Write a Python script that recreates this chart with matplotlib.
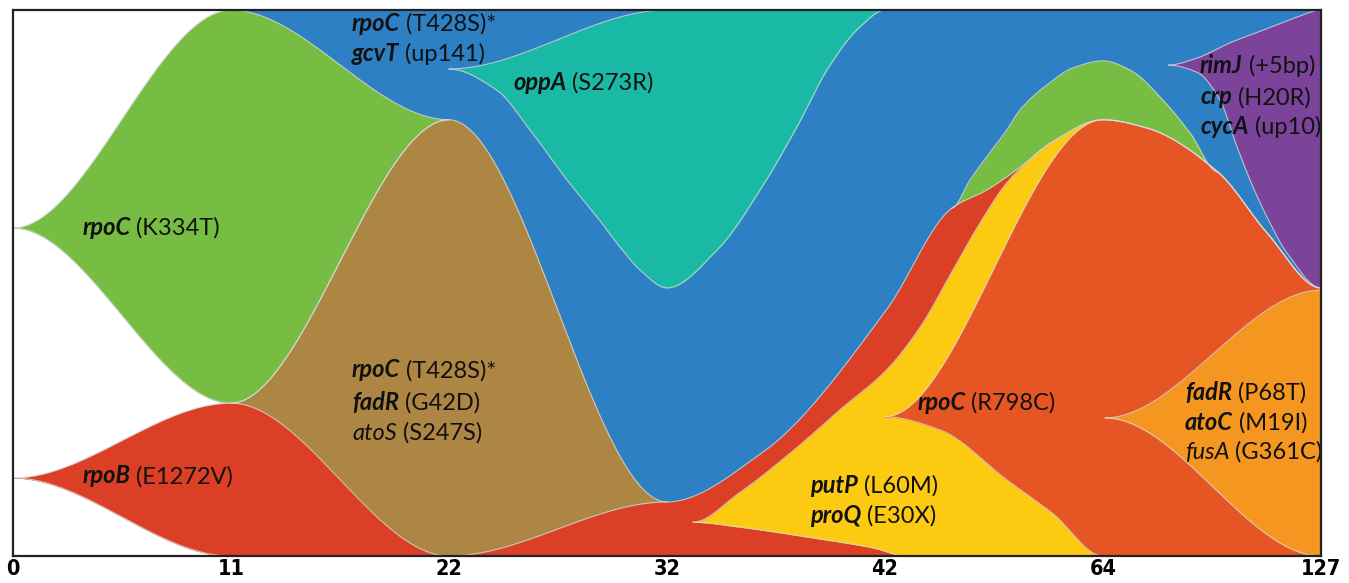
import numpy as np
import matplotlib
matplotlib.use("Agg")
import matplotlib.pyplot as plt
from matplotlib import font_manager as fm

# ------------------------------------------------------------------ data
timepoint_labels = ['0', '11', '22', '32', '42', '64', '127']

# Clone boundaries: x = timepoint index, y = position in the population (0 bottom, 1 top)
green1_top_x = [0, 1, 2]
green1_top_y = [0.601, 1.0, 0.799]
green1_bot_x = [0, 1, 2]
green1_bot_y = [0.601, 0.280, 0.799]

brown_top_x = [1, 2, 3]
brown_top_y = [0.280, 0.799, 0.099]

red_top_x = [0, 1, 2, 3, 3.436, 4.007, 4.306,
             4.466, 4.619, 4.766, 5, 5.2, 5.528, 5.752, 6]
red_top_y = [0.143, 0.280, 0.0, 0.099, 0.189, 0.451, 0.637,
             0.670, 0.712, 0.758, 0.799, 0.784, 0.703, 0.592, 0.491]
red_bot_x = [0, 1, 6]
red_bot_y = [0.143, 0.0, 0.0]

blue_top_x = [1, 6]
blue_top_y = [1.0, 1.0]
blue_bot_x = [1, 6]
blue_bot_y = [0.0, 0.0]

teal_top_x = [2, 3, 4]
teal_top_y = [0.892, 1.0, 1.0]
teal_bot_x = [2, 2.220, 2.372, 2.541, 2.679, 2.784, 2.876, 3, 3.229, 3.436, 3.596, 3.743, 3.885, 4]
teal_bot_y = [0.892, 0.853, 0.780, 0.689, 0.621, 0.566, 0.524, 0.491, 0.560, 0.676, 0.786, 0.896, 0.969, 1.0]

purple_top_x = [5.298, 5.431, 5.583, 5.734, 5.890, 6]
purple_top_y = [0.899, 0.912, 0.940, 0.963, 0.987, 1.0]
purple_bot_x = [5.298, 5.431, 5.537, 5.615, 5.688, 5.752, 5.844, 6]
purple_bot_y = [0.899, 0.886, 0.835, 0.749, 0.676, 0.621, 0.555, 0.491]

green2_top_x = [4.306, 4.390, 4.466, 4.558, 4.619, 4.743, 4.862, 5, 5.124, 5.275, 5.399, 5.528]
green2_top_y = [0.637, 0.689, 0.731, 0.780, 0.817, 0.863, 0.894, 0.907, 0.890, 0.835, 0.775, 0.703]

yellow_top_x = [3.119, 3.33, 3.6, 3.8, 4.008, 4.161, 4.312, 4.436, 4.558, 4.679, 4.766]
yellow_top_y = [0.062, 0.115, 0.200, 0.270, 0.341, 0.419, 0.524, 0.610, 0.683, 0.731, 0.758]
yellow_bot_x = [3.119, 3.335, 3.642, 3.945, 4.1]
yellow_bot_y = [0.062, 0.053, 0.035, 0.015, 0.0]

orred_top_x = [4, 5]
orred_top_y = [0.255, 0.799]
orred_bot_x = [4, 4.252, 4.560, 4.766, 5]
orred_bot_y = [0.255, 0.231, 0.139, 0.079, 0.0]

orange_top_x = [5.009, 6]
orange_top_y = [0.253, 0.487]
orange_bot_x = [5.009, 6]
orange_bot_y = [0.253, 0.0]

colors = {
    'blue': '#2D80C4', 'teal': '#1AB9A6', 'purple': '#7B449A',
    'green': '#77BD43', 'brown': '#AE8644', 'red': '#DB4026',
    'yellow': '#FDCA12', 'orred': '#E55624', 'orange': '#F4961F',
}

# labels: (x, y, gene, rest, bold gene)
labels = [
    (1.555, 0.976, 'rpoC', ' (T428S)*', True),
    (1.555, 0.921, 'gcvT', ' (up141)', True),
    (2.294, 0.868, 'oppA', ' (S273R)', True),
    (0.317, 0.602, 'rpoC', ' (K334T)', True),
    (1.555, 0.341, 'rpoC', ' (T428S)*', True),
    (1.555, 0.282, 'fadR', ' (G42D)', True),
    (1.555, 0.225, 'atoS', ' (S247S)', False),
    (0.317, 0.147, 'rpoB', ' (E1272V)', True),
    (4.147, 0.282, 'rpoC', ' (R798C)', True),
    (3.656, 0.130, 'putP', ' (L60M)', True),
    (3.656, 0.075, 'proQ', ' (E30X)', True),
    (5.445, 0.899, 'rimJ', ' (+5bp)', True),
    (5.445, 0.841, 'crp', ' (H20R)', True),
    (5.445, 0.786, 'cycA', ' (up10)', True),
    (5.376, 0.300, 'fadR', ' (P68T)', True),
    (5.376, 0.245, 'atoC', ' (M19I)', True),
    (5.376, 0.190, 'fusA', ' (G361C)', False),
]

# ------------------------------------------------------------------ helpers
X = np.linspace(0, 6, 2401)


def curve(xp, yp):
    """Smooth monotone Hermite curve through the read points.
    Flat tangents at timepoints and ends (fish-plot style)."""
    xp = np.asarray(xp, float)
    yp = np.asarray(yp, float)
    n = len(xp)
    h = np.diff(xp)
    d = np.diff(yp) / h
    m = np.zeros(n)
    for i in range(1, n - 1):
        if abs(xp[i] - round(xp[i])) < 1e-6 or d[i - 1] * d[i] <= 0:
            m[i] = 0.0
        else:
            w1 = 2 * h[i] + h[i - 1]
            w2 = h[i] + 2 * h[i - 1]
            m[i] = (w1 + w2) / (w1 / d[i - 1] + w2 / d[i])
    out = np.full_like(X, np.nan)
    for i in range(n - 1):
        sel = (X >= xp[i]) & (X <= xp[i + 1])
        t = (X[sel] - xp[i]) / h[i]
        h00 = 2 * t**3 - 3 * t**2 + 1
        h10 = t**3 - 2 * t**2 + t
        h01 = -2 * t**3 + 3 * t**2
        h11 = t**3 - t**2
        out[sel] = h00 * yp[i] + h10 * h[i] * m[i] + h01 * yp[i + 1] + h11 * h[i] * m[i + 1]
    return out


G1T = curve(green1_top_x, green1_top_y)
G1B = curve(green1_bot_x, green1_bot_y)
BRT = curve(brown_top_x, brown_top_y)
RT = curve(red_top_x, red_top_y)
RB = curve(red_bot_x, red_bot_y)
BLT = curve(blue_top_x, blue_top_y)
BLB = curve(blue_bot_x, blue_bot_y)
TT = curve(teal_top_x, teal_top_y)
TB = curve(teal_bot_x, teal_bot_y)
PT = curve(purple_top_x, purple_top_y)
PB = curve(purple_bot_x, purple_bot_y)
G2T = curve(green2_top_x, green2_top_y)
YT = curve(yellow_top_x, yellow_top_y)
YB = curve(yellow_bot_x, yellow_bot_y)
OT = curve(orred_top_x, orred_top_y)
OB = curve(orred_bot_x, orred_bot_y)
OrT = curve(orange_top_x, orange_top_y)
OrB = curve(orange_bot_x, orange_bot_y)

# derived boundaries (descendants stay inside their parent)
yel_upper = np.where(np.isnan(YT), RT, np.fmin(YT, RT))
yel_lower = np.where(np.isnan(YB), 0.0, YB)
or_upper = np.where(np.isnan(OT), RT, np.fmin(OT, RT))
or_upper = np.fmin(or_upper, yel_upper)
or_lower = np.where(np.isnan(OB), 0.0, OB)

# ------------------------------------------------------------------ fonts
avail = {f.name for f in fm.fontManager.ttflist}
TXT_FONT = 'Lato' if 'Lato' in avail else 'DejaVu Sans'
if 'Liberation Sans Narrow' in avail:
    tick_fp = dict(family='Liberation Sans Narrow', fontweight='bold')
else:
    tick_fp = dict(family='DejaVu Sans', fontstretch='condensed', fontweight='bold')

# ------------------------------------------------------------------ plot
fig = plt.figure(figsize=(13.49, 5.83), dpi=100)
ax = fig.add_axes([13 / 1349, 27 / 583, 1308 / 1349, 546 / 583])
ax.set_xlim(0, 6)
ax.set_ylim(0, 1)


def fill(lo, hi, color, xmin=0, xmax=6):
    sel = (X >= xmin) & (X <= xmax) & ~np.isnan(lo) & ~np.isnan(hi)
    ax.fill_between(X[sel], lo[sel], np.maximum(hi[sel], lo[sel]), color=color,
                    linewidth=0.4, edgecolor=color, zorder=2)


fill(BLB, BLT, colors['blue'], 1, 6)
fill(TB, TT, colors['teal'], 2, 4)
fill(PB, PT, colors['purple'], purple_top_x[0], 6)
fill(G1B, G1T, colors['green'], 0, 2)
fill(RT, BRT, colors['brown'], 1, 3)
fill(RT, G2T, colors['green'], green2_top_x[0], green2_top_x[-1])
fill(RB, RT, colors['red'], 0, 6)
fill(yel_lower, yel_upper, colors['yellow'], yellow_top_x[0], 6)
fill(or_lower, or_upper, colors['orred'], orred_top_x[0], 6)
fill(OrB, OrT, colors['orange'], orange_top_x[0], 6)

# thin light boundary lines
line_kw = dict(color='#d8d8d8', lw=0.8, alpha=0.8, zorder=3)


def bline(c, xmin=0, xmax=6):
    s = (X >= xmin) & (X <= xmax)
    ax.plot(X[s], c[s], **line_kw)


for c in (G1T, G1B, BRT, TB, PT, PB, YB, OB, OrT, OrB, G2T, RT):
    bline(c)
bline(RB, 0, 1)
bline(yel_upper, yellow_top_x[0], 6)
bline(or_upper, orred_top_x[0], 6)
bline(TT, 2, 3)

# labels
FS = 17
for x, y, gene, rest, bold in labels:
    tx = ax.text(x, y, gene, fontsize=FS, fontstyle='italic',
                 fontweight='bold' if bold else 'normal', va='center', ha='left',
                 family=TXT_FONT, color='#111111', zorder=5)
    ax.annotate(rest, xy=(1, 0), xycoords=tx, va='bottom', ha='left',
                fontsize=FS, family=TXT_FONT, color='#111111', zorder=5)

ax.set_xticks(range(len(timepoint_labels)))
ax.set_xticklabels(timepoint_labels, fontsize=15.5, **tick_fp)
ax.tick_params(axis='x', length=0, pad=2)
ax.set_yticks([])
for s in ax.spines.values():
    s.set_linewidth(1.6)
    s.set_color('#222222')
    s.set_zorder(6)

fig.savefig('out.png', dpi=100)
